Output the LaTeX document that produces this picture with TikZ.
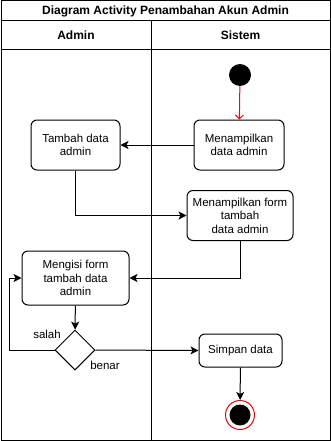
\documentclass[tikz,border=0pt]{standalone}
\usepackage{fontspec}
\setmainfont{Liberation Sans}
\usetikzlibrary{arrows.meta,shapes.geometric}
\tikzset{
    act/.style={rectangle, rounded corners=6pt, draw, line width=1pt, align=center,
        inner sep=0pt, font=\fontsize{11.5}{13.5}\selectfont},
    flow/.style={-{Stealth[length=8pt,width=8pt,inset=2pt]}, line width=1pt},
    lane/.style={line width=1pt},
    head/.style={font=\fontsize{12}{14}\selectfont\bfseries},
    guard/.style={font=\fontsize{11.5}{13}\selectfont}
}

\begin{document}
\begin{tikzpicture}[x=1pt, y=-1pt]
  \useasboundingbox (0,0) rectangle (331,441);
  % swimlanes
  \draw [lane] (1,1) rectangle (330,440);
  \draw [lane] (1,21) -- (330,21);
  \draw [lane] (1,50) -- (330,50);
  \draw [lane] (151,21) -- (151,440);
  \node (title) [head] at (165.5,11) {Diagram Activity Penambahan Akun Admin};
  \node (admin) [head] at (76,35.5) {Admin};
  \node (sistem) [head] at (240.5,35.5) {Sistem};

  % activities
  \node (start) [circle, fill=black, minimum size=22pt, inner sep=0pt] at (240,75) {};
  \node (tampil) [act, minimum width=90pt, minimum height=50pt] at (239,145) {Menampilkan\\data admin};
  \node (tambah) [act, minimum width=89pt, minimum height=50pt] at (75.5,145) {Tambah data\\admin};
  \node (form) [act, minimum width=106pt, minimum height=50pt] at (240,215.5) {Menampilkan form\\tambah\\data admin};
  \node (isi) [act, minimum width=107pt, minimum height=54pt] at (75.5,278) {Mengisi form\\tambah data\\admin};
  \node (cek) [diamond, draw, line width=1pt, minimum size=40pt, inner sep=0pt] at (75,350) {};
  \node (simpan) [act, minimum width=83pt, minimum height=33pt] at (240.5,350.5) {Simpan data};
  \node (end) [circle, draw=red, fill=white, line width=1pt, minimum size=29pt, inner sep=0pt] at (240,415) {};
  \node (endin) [circle, fill=black, minimum size=21pt, inner sep=0pt] at (end) {};

  \node (salah) [guard] at (47,334) {salah};
  \node (benar) [guard] at (105,365) {benar};

  % flows
  \draw [red, line width=1pt, -{Straight Barb[length=4pt,width=8pt]}] (start) -- (tampil);
  \draw [flow] (tampil) -- (tambah);
  \draw [flow] (tambah.south) |- (form.west);
  \draw [flow] (form.south) |- (isi.east);
  \draw [flow] (isi) -- (cek);
  \draw [flow] (cek.west) -- ++(-45,0) |- (isi.west);
  \draw [flow] (cek.east) -- (simpan.west);
  \draw [flow] (simpan) -- (end);
\end{tikzpicture}
\end{document}
